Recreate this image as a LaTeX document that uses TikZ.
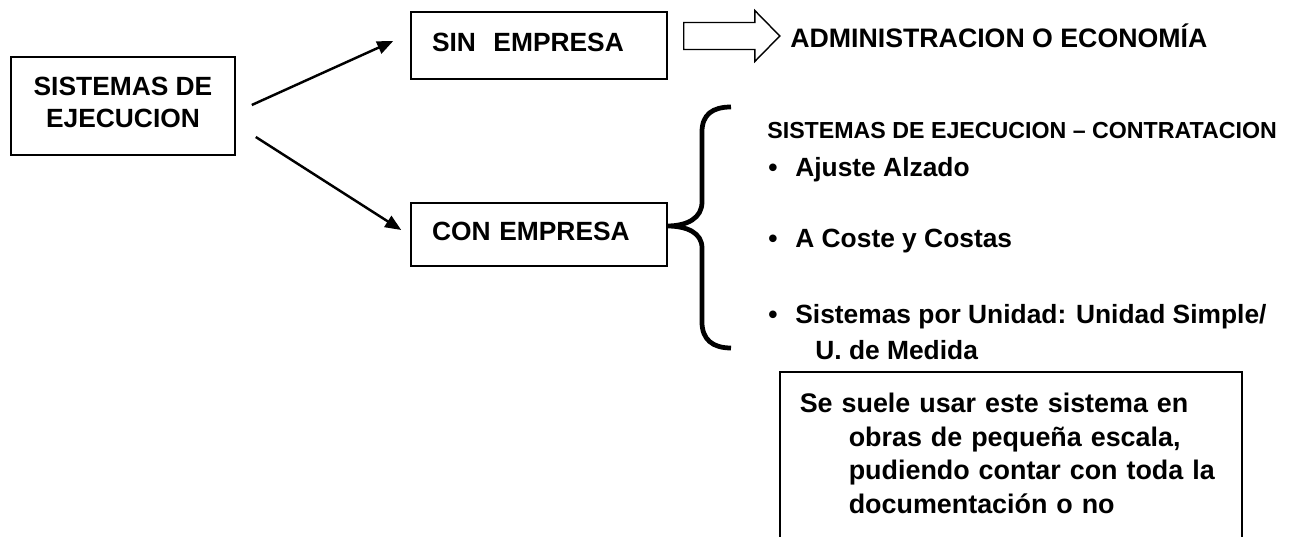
\documentclass[tikz,border=0pt]{standalone}
\usepackage{fontspec}
\setmainfont{Liberation Sans}
\usetikzlibrary{arrows.meta,calc}
\tikzset{
  caja/.style={draw, line width=0.9pt, text depth=0.14cm, font=\bfseries\fontsize{15}{18.2}\selectfont},
  flecha/.style={line width=1.4pt, -{Triangle[length=0.32cm,width=0.26cm]}},
  texto/.style={anchor=base west, inner sep=0pt, align=left, font=\bfseries\fontsize{15}{19}\selectfont},
}
\begin{document}
\begin{tikzpicture}
\useasboundingbox (0,0) rectangle (25.94,10.74);
% cajas principales
\node[caja, minimum width=4.48cm, minimum height=1.96cm, align=center] (sis) at (2.46,8.62) {SISTEMAS DE\\EJECUCION};
\node[caja, text width=4.28cm, inner xsep=0.42cm, minimum height=1.34cm, align=left] (sin) at (10.78,9.83) {SIN\ \ EMPRESA};
\node[caja, text width=4.28cm, inner xsep=0.42cm, minimum height=1.26cm, align=left] (con) at (10.78,6.05) {CON EMPRESA};
\draw[flecha] ($(sis.east)+(0.32,0.02)$) -- ($(sin.west)+(-0.34,0.09)$);
\draw[flecha] ($(sis.east)+(0.40,-0.62)$) -- ($(con.west)+(-0.18,0.09)$);
% flecha hueca
\coordinate (blk) at ($(sin.east)+(0.32,0.19)$);
\draw[line width=0.8pt] (blk) ++(0,0.27) -- ++(1.42,0) -- ++(0,0.24) -- ++(0.5,-0.51) -- ++(-0.5,-0.51) -- ++(0,0.24) -- ++(-1.42,0) -- cycle;
\node[texto, font=\bfseries\fontsize{15.2}{18}\selectfont] (adm) at (15.80,9.78) {ADMINISTRACION O ECONOMÍA};
% llave
\coordinate (pico) at ($(con.east)+(-0.02,0.17)$);
\draw[line width=2.7pt] (14.62,8.60) .. controls (14.25,8.60) and (14.04,8.45) .. (14.04,8.10) -- (14.04,6.70) .. controls (14.04,6.38) and (13.75,6.22) .. (pico)
  .. controls (13.75,6.22) and (14.04,6.08) .. (14.04,5.78) -- (14.04,4.30) .. controls (14.04,3.95) and (14.25,3.78) .. (14.62,3.78);
% lista
\node[texto, font=\bfseries\fontsize{13.2}{16}\selectfont] (tit) at (15.34,7.96) {SISTEMAS DE EJECUCION – CONTRATACION};
\node[texto] (aj) at (15.36,7.20) {\makebox[0.54cm][l]{•}Ajuste Alzado};
\node[texto] (cc) at (15.36,5.78) {\makebox[0.54cm][l]{•}A Coste y Costas};
\node[texto] (un) at (15.36,3.54) {\makebox[0.54cm][l]{•}Sistemas por Unidad: Unidad Simple/\\[2pt]\hspace*{0.94cm}U. de Medida};
\node[texto, draw, line width=0.9pt, anchor=north west, text width=8.44cm, inner xsep=0.4cm, inner ysep=0.43cm, font=\bfseries\fontsize{15.3}{19.1}\selectfont] (nota) at (15.58,3.32)
  {Se suele usar este sistema en\\\hspace*{0.98cm}obras de pequeña escala,\\\hspace*{0.98cm}pudiendo contar con toda la\\\hspace*{0.98cm}documentación o no\\[1.5cm]\mbox{}};
\end{tikzpicture}
\end{document}
